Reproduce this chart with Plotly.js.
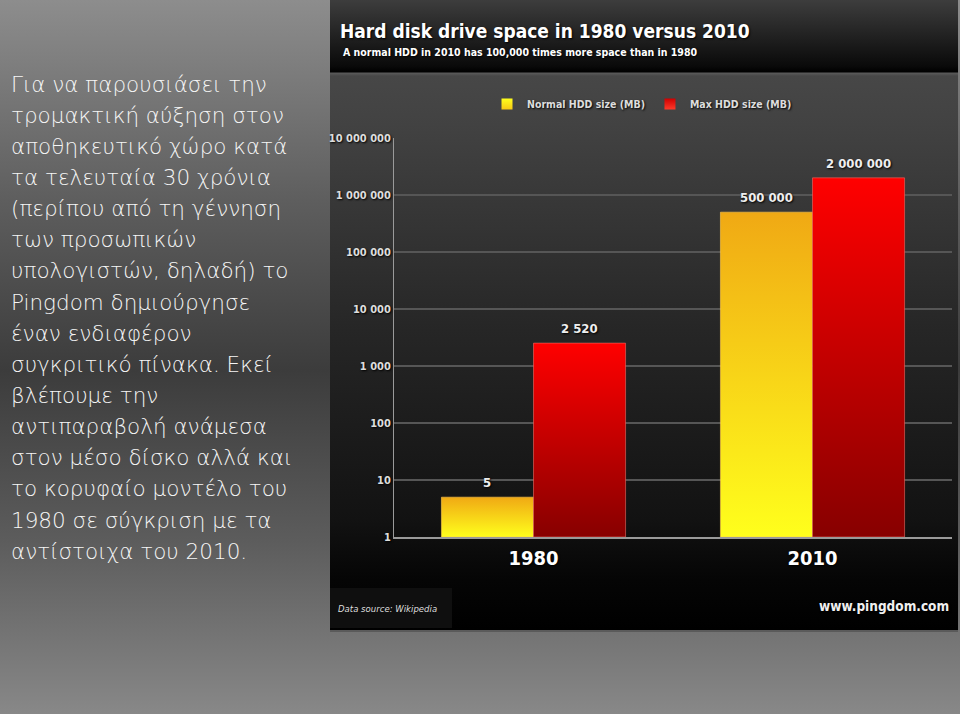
<!DOCTYPE html>
<html>
<head>
<meta charset="utf-8">
<script src="https://cdn.plot.ly/plotly-3.0.1.min.js"></script>
<style>
  html, body { margin: 0; padding: 0; }
  body {
    width: 960px; height: 714px; overflow: hidden; position: relative;
    background: linear-gradient(to bottom, #8d8d8d 0px, #5e5e5e 200px, #3c3c3c 370px, #5c5c5c 540px, #888888 714px);
  }
  #panel {
    position: absolute; left: 330px; top: 0; width: 628px; height: 630px;
    background: linear-gradient(to bottom, #3d3d3d 0px, #0a0a0a 66px, #000 72px, #5a5a5a 73px,
      #474747 76px, #424242 125px, #262626 330px, #121212 520px, #050505 580px, #000 630px);
    border-bottom: 2px solid #5a5a5a;
  }
  #srcbox {
    position: absolute; left: 330px; top: 588px; width: 122px; height: 40px; background: #0f0f0f;
  }
  #chart { position: absolute; left: 0; top: 0; }
</style>
</head>
<body>
<div id="panel"></div>
<div id="srcbox"></div>
<div id="chart"></div>
<script>
// ─────────────────────────────
// DATOS
// ─────────────────────────────
const years = ['1980', '2010'];
const normalHdd = [5, 500000];
const maxHdd = [2520, 2000000];
const seriesNames = ['Normal HDD size (MB)', 'Max HDD size (MB)'];

const textLines = [
  'Για να παρουσιάσει την',
  'τρομακτική αύξηση στον',
  'αποθηκευτικό χώρο κατά',
  'τα τελευταία 30 χρόνια',
  '(περίπου από τη γέννηση',
  'των προσωπικών',
  'υπολογιστών, δηλαδή) το',
  'Pingdom δημιούργησε',
  'έναν ενδιαφέρον',
  'συγκριτικό πίνακα. Εκεί',
  'βλέπουμε την',
  'αντιπαραβολή ανάμεσα',
  'στον μέσο δίσκο αλλά και',
  'το κορυφαίο μοντέλο του',
  '1980 σε σύγκριση με τα',
  'αντίστοιχα του 2010.'
];

// ─────────────────────────────
// ESTILO
// ─────────────────────────────
const W = 960, H = 714;
const COND = '"Liberation Sans Narrow", "DejaVu Sans Condensed", "Arial Narrow", sans-serif';
const SHADOW = '1px 1px 2px #000';
const gradients = [
  [[0, '#ffff1c'], [1, '#f0a914']],   // amarillo: abajo -> arriba
  [[0, '#870000'], [1, '#ff0000']]    // rojo
];
const legendColors = [['#f7c815', '#ffff1c'], ['#ff3a2a', '#d00000']];
const groupWidth = 0.66;
const barWidth = groupWidth / 2;

const px = x => x / W;
const py = y => 1 - y / H;
const fmt = v => String(v).replace(/\B(?=(\d{3})+(?!\d))/g, ' ');

// ─────────────────────────────
// Barras (una traza por barra, para el degradado)
// ─────────────────────────────
const traces = [];
const annotations = [];

[normalHdd, maxHdd].forEach((vals, s) => {
  vals.forEach((v, i) => {
    const x0 = i - groupWidth / 2 + s * barWidth;
    const x1 = x0 + barWidth;
    traces.push({
      type: 'scatter',
      mode: 'lines',
      x: [x0, x0, x1, x1, x0],
      y: [1, v, v, 1, 1],
      fill: 'toself',
      fillgradient: { type: 'vertical', colorscale: gradients[s] },
      line: { width: 1, color: s === 0 ? 'rgba(255,200,80,0.6)' : 'rgba(230,110,100,0.6)' },
      name: seriesNames[s],
      legendgroup: 's' + s,
      showlegend: false,
      hoveron: 'fills',
      text: years[i] + ': ' + fmt(v)
    });
    annotations.push({
      xref: 'x', yref: 'y',
      x: (x0 + x1) / 2, y: Math.log10(v),
      yanchor: 'bottom', yshift: 5,
      text: fmt(v), showarrow: false,
      font: { family: COND, size: 13, color: '#eeeeee', weight: 'bold', shadow: SHADOW }
    });
  });
});

// entradas de leyenda
seriesNames.forEach((n, s) => {
  traces.push({
    type: 'scatter', mode: 'markers',
    x: [null], y: [null],
    name: n, legendgroup: 's' + s,
    marker: { symbol: 'square', size: 11, color: legendColors[s][1],
      gradient: { type: 'vertical', color: legendColors[s][0] }, line: { width: 0 } }
  });
});

// ─────────────────────────────
// Texto de la izquierda
// ─────────────────────────────
textLines.forEach((t, k) => {
  annotations.push({
    xref: 'paper', yref: 'paper',
    x: px(9), y: py(84 + k * 31.15),
    xanchor: 'left', yanchor: 'middle',
    text: t, showarrow: false,
    font: { family: '"DejaVu Sans", "Noto Sans", sans-serif', size: 21.5, color: '#f6f6f6', weight: 200 }
  });
});

// subtítulo y pie
annotations.push({
  xref: 'paper', yref: 'paper', x: px(341), y: py(52),
  xanchor: 'left', yanchor: 'middle', showarrow: false,
  text: 'A normal HDD in 2010 has 100,000 times more space than in 1980',
  font: { family: COND, size: 10.5, color: '#ffffff', weight: 'bold', shadow: SHADOW }
});
annotations.push({
  xref: 'paper', yref: 'paper', x: px(336), y: py(608),
  xanchor: 'left', yanchor: 'middle', showarrow: false,
  text: '<i>Data source: Wikipedia</i>',
  font: { family: COND, size: 9.5, color: '#dddddd' }
});
annotations.push({
  xref: 'paper', yref: 'paper', x: px(951), y: py(606),
  xanchor: 'right', yanchor: 'middle', showarrow: false,
  text: 'www.pingdom.com',
  font: { family: COND, size: 13.5, color: '#f0f0f0', weight: 'bold', shadow: SHADOW }
});

// ─────────────────────────────
// Layout
// ─────────────────────────────
const layout = {
  width: W, height: H,
  margin: { l: 0, r: 0, t: 0, b: 0 },
  paper_bgcolor: 'rgba(0,0,0,0)',
  plot_bgcolor: 'rgba(0,0,0,0)',
  separators: '. ',
  showlegend: true,
  title: {
    text: '<b>Hard disk drive space in 1980 versus 2010</b>',
    xref: 'paper', yref: 'paper',
    x: px(340), xanchor: 'left',
    y: py(31), yanchor: 'middle',
    font: { family: COND, size: 19, color: '#ffffff', shadow: SHADOW }
  },
  legend: {
    orientation: 'h',
    x: px(487), xanchor: 'left',
    y: py(104), yanchor: 'middle',
    bgcolor: 'rgba(0,0,0,0)',
    font: { family: COND, size: 10.5, color: '#dddddd', weight: 'bold', shadow: SHADOW },
    itemwidth: 30
  },
  xaxis: {
    domain: [px(394), px(952)],
    range: [-0.5, 1.5],
    tickvals: years.map((_, i) => i),
    ticktext: years,
    showgrid: false, zeroline: false,
    showline: true, linecolor: '#9a9a9a', linewidth: 2,
    ticks: '',
    ticklabelstandoff: 2,
    tickfont: { family: COND, size: 20, color: '#ffffff', weight: 'bold', shadow: SHADOW },
    fixedrange: true
  },
  yaxis: {
    domain: [py(537), py(138)],
    type: 'log',
    range: [0, 7],
    dtick: 1,
    tickformat: ',d',
    showline: true, linecolor: '#9a9a9a', linewidth: 1,
    gridcolor: '#565656', gridwidth: 1.5,
    zeroline: false,
    ticks: '',
    tickfont: { family: COND, size: 11, color: '#dddddd', weight: 'bold', shadow: SHADOW },
    fixedrange: true
  },
  annotations
};

Plotly.newPlot('chart', traces, layout, { displayModeBar: false });
</script>
</body>
</html>
